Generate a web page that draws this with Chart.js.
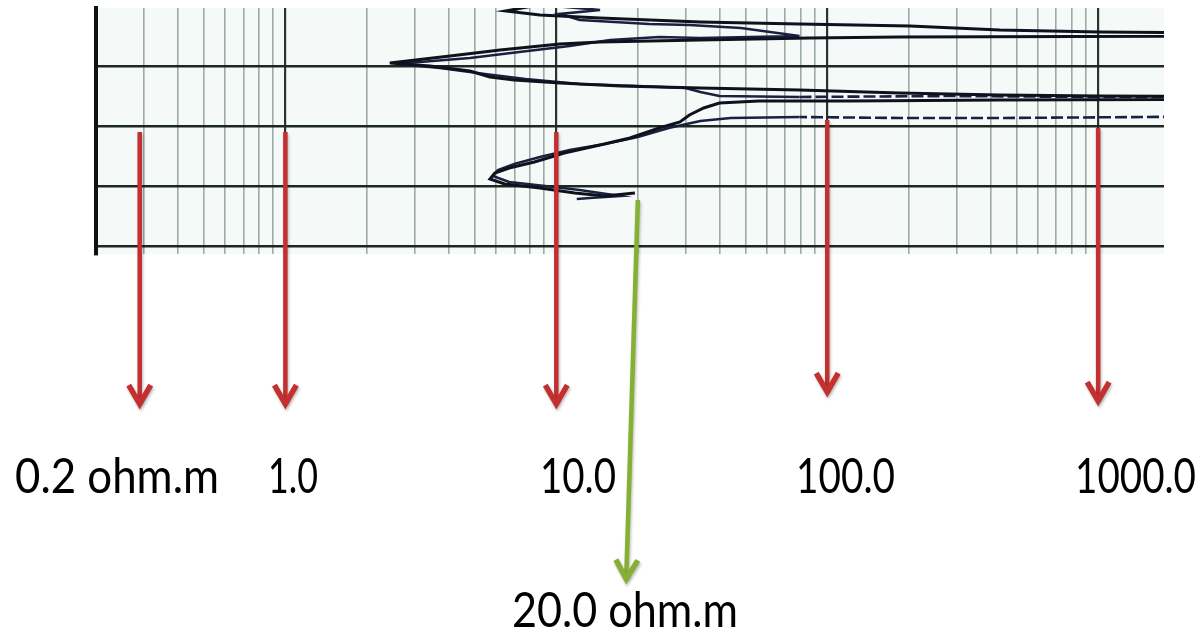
<!DOCTYPE html>
<html>
<head>
<meta charset="utf-8">
<script src="https://cdn.jsdelivr.net/npm/chart.js@4.4.1/dist/chart.umd.min.js"></script>
<style>
  html, body { margin: 0; padding: 0; background: #ffffff; }
  #wrap { position: relative; width: 1202px; height: 638px; }
  canvas { display: block; }
</style>
</head>
<body>
<div id="wrap"><canvas id="chart" width="1202" height="638"></canvas></div>
<script>
// ---------------- data ----------------
// resistivity (ohm.m) and depth (grid units, 10 per horizontal division)
const deepRes = [8.0, 6.5, 8.7, 14.5, 34, 79, 202, 433, 1014, 5000, 5000, 185, 86, 34, 14.5, 10.3, 6.2, 4.05, 2.43, 3.42, 4.8, 5.69, 7.0, 10.3, 17.2, 34, 79, 185, 433, 1014, 5000, 5000, 433, 121, 56, 40, 35, 31, 28.6, 24, 18.7, 14.5, 10.7, 8.3, 6.7, 5.93, 5.69, 6.45, 8.7, 11.7, 15.1, 19.5];
const deepDepth = [0, 0.75, 1.42, 1.92, 2.58, 2.92, 3.25, 3.92, 4.25, 4.5, 4.92, 5.08, 5.25, 5.58, 5.92, 6.25, 7.25, 8.25, 9.42, 9.92, 10.75, 11.75, 12.25, 12.75, 13.25, 13.58, 13.92, 14.42, 14.75, 14.92, 15.08, 15.42, 15.58, 15.75, 15.75, 16.08, 16.92, 18.08, 19.25, 20.25, 21.92, 23.08, 24.42, 25.92, 26.92, 27.75, 28.75, 29.58, 30.25, 31.08, 31.58, 31.08];

const shallowRes = [10.3, 14.5, 10.3, 12.2, 22, 31, 48, 79, 34, 24, 15.8, 11.2, 7.3, 4.8, 3.14, 2.6, 3.72, 5.45, 7.7, 12.2, 20, 30, 34, 40, 79, 283, 1014, 5000, 5000, 452, 185, 79, 44, 34, 26, 20, 15.1, 11.2, 8.7, 7.0, 6.09, 5.83, 6.7, 9.1, 12.2, 17.2, 13.3, 11.9];
const shallowDepth = [0, 0.58, 1.25, 2.25, 2.92, 3.08, 3.58, 4.92, 5.25, 5.08, 5.58, 6.58, 7.58, 8.58, 9.25, 9.58, 10.25, 11.25, 12.08, 12.92, 13.25, 13.58, 14.25, 14.92, 15.08, 14.92, 15.08, 15.17, 18.25, 18.58, 18.58, 18.42, 18.58, 19.08, 20.25, 21.75, 22.92, 23.92, 25.08, 26.25, 27.25, 28.25, 29.25, 29.92, 30.58, 31.58, 31.92, 32.08];

// grid lines of the log paper
const resGridTicks = [0.2, 0.3, 0.4, 0.5, 0.6, 0.7, 0.8, 0.9,
  1, 2, 3, 4, 5, 6, 7, 8, 9,
  10, 20, 30, 40, 50, 60, 70, 80, 90,
  100, 200, 300, 400, 500, 600, 700, 800, 900, 1000];
const depthTicks = [10, 20, 30, 40];

// scale labels with arrows
const arrowValues = [0.29, 1, 10, 100, 1000];
const arrowLabels = ['0.2 ohm.m', '1.0', '10.0', '100.0', '1000.0'];
const markValue = 20;
const markLabel = '20.0 ohm.m';

// ---------------- styling / placement (not data) ----------------
const arrowStyle = {
  tops: [20.92, 20.92, 20.92, 18.92, 20.25],   // in depth units of the y scale
  tips: [66.92, 66.92, 66.92, 64.92, 66.42],
  color: '#c42f2f'
};
const markStyle = { top: 32.25, tip: 96.08, bottomValue: 18.1, color: '#86b034' };
const labelStyle = {
  font: '48px Lato, "Open Sans", sans-serif',
  row1: { y: 493, lefts: [15, 268, 540, 796, 1075], widths: [204, 50, 76, 99, 121] },
  mark: { y: 627, left: 512, width: 226 }
};

function isMajor(v) {
  const l = Math.log10(v);
  return Math.abs(l - Math.round(l)) < 1e-9;
}

const paperBg = {
  id: 'paperBg',
  beforeDraw(chart) {
    const { ctx, chartArea: a } = chart;
    ctx.save();
    ctx.fillStyle = '#f5faf8';
    ctx.fillRect(a.left, a.top, a.right - a.left, a.bottom - a.top);
    ctx.restore();
  }
};

function drawArrow(ctx, x1, y1, x2, y2, color) {
  const dx = x2 - x1, dy = y2 - y1;
  const len = Math.hypot(dx, dy);
  const ux = dx / len, uy = dy / len;
  const nx = -uy, ny = ux;
  ctx.save();
  ctx.strokeStyle = color;
  ctx.shadowColor = 'rgba(0,0,0,0.28)';
  ctx.shadowBlur = 3;
  ctx.shadowOffsetX = 1;
  ctx.shadowOffsetY = 2;
  ctx.lineWidth = 4.5;
  ctx.lineCap = 'butt';
  ctx.beginPath();
  ctx.moveTo(x1, y1);
  ctx.lineTo(x2 - ux * 5, y2 - uy * 5);
  ctx.stroke();
  const tx = x2 - ux * 4, ty = y2 - uy * 4;
  ctx.lineWidth = 5.5;
  ctx.lineJoin = 'miter';
  ctx.miterLimit = 10;
  ctx.beginPath();
  ctx.moveTo(tx - ux * 19 + nx * 11, ty - uy * 19 + ny * 11);
  ctx.lineTo(tx, ty);
  ctx.lineTo(tx - ux * 19 - nx * 11, ty - uy * 19 - ny * 11);
  ctx.stroke();
  ctx.restore();
}

const scaleNotes = {
  id: 'scaleNotes',
  afterDraw(chart) {
    const { ctx } = chart;
    const xs = chart.scales.x, ys = chart.scales.y;
    arrowValues.forEach((v, i) => {
      const x = xs.getPixelForValue(v);
      drawArrow(ctx, x, ys.getPixelForValue(arrowStyle.tops[i]), x, ys.getPixelForValue(arrowStyle.tips[i]), arrowStyle.color);
    });
    drawArrow(ctx, xs.getPixelForValue(markValue), ys.getPixelForValue(markStyle.top),
      xs.getPixelForValue(markStyle.bottomValue), ys.getPixelForValue(markStyle.tip), markStyle.color);

    ctx.save();
    ctx.fillStyle = '#000000';
    ctx.font = labelStyle.font;
    ctx.textAlign = 'left';
    ctx.textBaseline = 'alphabetic';
    arrowLabels.forEach((t, i) => {
      ctx.fillText(t, labelStyle.row1.lefts[i], labelStyle.row1.y, labelStyle.row1.widths[i]);
    });
    ctx.fillText(markLabel, labelStyle.mark.left, labelStyle.mark.y, labelStyle.mark.width);
    ctx.restore();
  }
};

const ctx = document.getElementById('chart').getContext('2d');
new Chart(ctx, {
  type: 'scatter',
  data: {
    datasets: [
      {
        label: 'Deep resistivity',
        data: deepRes.map((v, i) => ({ x: v, y: deepDepth[i] })),
        showLine: true,
        pointRadius: 0,
        borderColor: '#0f121c',
        borderWidth: 3,
        tension: 0
      },
      {
        label: 'Shallow resistivity',
        data: shallowRes.map((v, i) => ({ x: v, y: shallowDepth[i] })),
        showLine: true,
        pointRadius: 0,
        borderColor: '#1a2140',
        borderWidth: 2.6,
        tension: 0,
        segment: {
          borderDash: c => (c.p0.parsed.x > 60 && c.p1.parsed.x > 60) ? [12, 4] : undefined
        }
      }
    ]
  },
  options: {
    responsive: false,
    animation: false,
    devicePixelRatio: 1,
    layout: { padding: { left: 96, top: 8, right: 38, bottom: 384 } },
    plugins: {
      legend: { display: false },
      tooltip: { enabled: false }
    },
    scales: {
      x: {
        type: 'logarithmic',
        min: 0.2,
        max: 1750,
        position: 'bottom',
        ticks: { display: false },
        border: { display: false },
        grid: {
          drawTicks: false,
          color: c => (c.tick && isMajor(c.tick.value)) ? '#26362f' : 'rgba(118,138,130,0.7)',
          lineWidth: c => (c.tick && isMajor(c.tick.value)) ? 2.2 : 1.6
        },
        afterBuildTicks: s => { s.ticks = resGridTicks.map(v => ({ value: v })); }
      },
      y: {
        type: 'linear',
        reverse: true,
        min: 0.25,
        max: 41.25,
        ticks: { display: false },
        border: { display: true, color: '#111111', width: 4 },
        grid: { drawTicks: false, color: '#1c2822', lineWidth: 2.4 },
        afterBuildTicks: s => { s.ticks = depthTicks.map(v => ({ value: v })); }
      }
    }
  },
  plugins: [paperBg, scaleNotes]
});
</script>
</body>
</html>
